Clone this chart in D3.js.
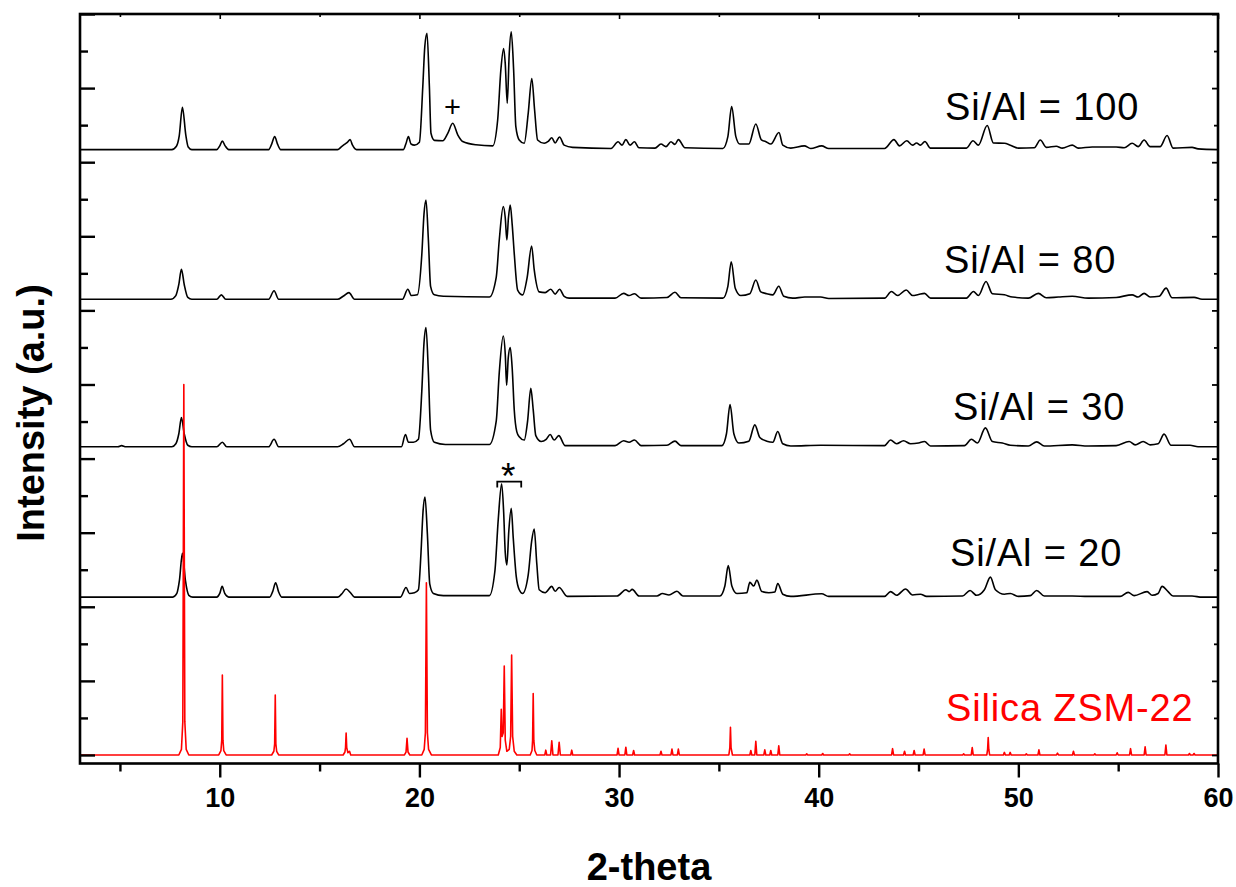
<!DOCTYPE html>
<html>
<head>
<meta charset="utf-8">
<script src="https://cdn.jsdelivr.net/npm/d3@7"></script>
<style>
  html, body { margin: 0; padding: 0; background: #fff; }
  svg { display: block; }
  text { font-family: "Liberation Sans", Arial, Helvetica, sans-serif; }
</style>
</head>
<body>
<svg id="chart" width="1236" height="887"></svg>
<script>
// ---------------- DATA (2-theta, intensity above each pattern's own baseline) ----------------
const seriesNames = ["Si/Al = 100", "Si/Al = 80", "Si/Al = 30", "Si/Al = 20", "Silica ZSM-22"];
const seriesOffsets = [16.34, 12.30, 8.32, 4.26, 0];

const siAl100 = [[3,0],[7.6,0],[7.83,0.09],[7.97,0.37],[8.13,1.14],[8.3,0.39],[8.42,0.07],[8.6,0],
[9.85,0],[10.0,0.1],[10.13,0.23],[10.27,0.1],[10.45,0],
[12.45,0],[12.6,0.15],[12.75,0.35],[12.9,0.14],[13.05,0],
[15.9,0],[16.1,0.08],[16.25,0.14],[16.4,0.2],[16.53,0.27],[16.65,0.12],[16.85,0],
[19.2,0],[19.32,0.15],[19.45,0.35],[19.58,0.15],[19.75,0.12],[20.0,0.2],[20.17,1.7],[20.27,2.78],[20.38,3.14],[20.5,1.7],[20.58,0.44],[20.75,0.25],[21.17,0.24],[21.42,0.44],[21.67,0.71],[21.92,0.4],[22.17,0.22],[22.83,0.13],[23.67,0.1],[23.92,0.8],[24.08,2.15],[24.22,2.73],[24.3,2.32],[24.4,1.25],[24.5,2.6],[24.6,3.18],[24.72,2.15],[24.83,0.62],[25.0,0.26],[25.25,0.17],[25.45,0.98],[25.63,1.92],[25.77,1.07],[25.92,0.26],[26.25,0.17],[26.45,0.22],[26.63,0.32],[26.8,0.18],[27.02,0.34],[27.25,0.12],[27.67,0.06],
[29.6,0.03],[29.95,0.21],[30.15,0.12],[30.34,0.27],[30.55,0.12],[30.77,0.21],[31.0,0.05],[31.8,0.04],[32.1,0.15],[32.35,0.08],[32.6,0.21],[32.8,0.14],[32.97,0.27],[33.3,0.05],[35.2,0.03],[35.45,0.35],[35.64,1.16],[35.85,0.35],[36.05,0.15],[36.5,0.15],[36.85,0.69],[37.13,0.26],[37.34,0.22],[37.6,0.15],[38.01,0.46],[38.2,0.12],[38.6,0.04],[39.28,0.1],[39.6,0.03],[40.15,0.1],[40.5,0.03],[43.3,0.03],[43.77,0.27],[44.05,0.1],[44.41,0.24],[44.7,0.12],[44.9,0.18],[45.1,0.12],[45.32,0.22],[45.6,0.04],[47.4,0.04],[47.73,0.24],[48.0,0.12],[48.44,0.65],[48.75,0.18],[49.3,0.17],[49.6,0.12],[50.0,0.04],[50.8,0.05],[51.1,0.26],[51.4,0.06],[51.9,0.09],[52.2,0.04],[52.7,0.12],[53.0,0.04],[53.7,0.07],[54.9,0.07],[55.3,0.05],[55.7,0.17],[56.0,0.08],[56.3,0.26],[56.6,0.08],[57.1,0.08],[57.45,0.38],[57.75,0.04],[58.7,0.06],[59.0,0.02],[60,0]];

const siAl80 = [[3,0],[7.55,0],[7.8,0.1],[7.95,0.4],[8.08,0.81],[8.22,0.4],[8.4,0.05],[8.6,0],
[9.85,0],[10.08,0.12],[10.3,0],
[12.45,0],[12.72,0.23],[12.95,0],
[15.9,0],[16.2,0.09],[16.47,0.18],[16.75,0],
[19.15,0],[19.42,0.27],[19.6,0.1],[19.9,0.12],[20.12,1.2],[20.23,2.3],[20.33,2.68],[20.45,1.6],[20.56,0.35],[20.75,0.12],[21.2,0.08],[23.5,0.06],[23.85,0.6],[24.0,1.6],[24.2,2.5],[24.3,2.2],[24.38,1.6],[24.46,2.2],[24.55,2.54],[24.65,2.0],[24.75,1.24],[24.92,0.25],[25.17,0.12],[25.4,0.6],[25.62,1.44],[25.75,0.8],[26.0,0.2],[26.3,0.18],[26.58,0.27],[26.8,0.14],[27.02,0.27],[27.25,0.08],[27.5,0.03],
[29.8,0.03],[30.23,0.16],[30.5,0.1],[30.77,0.15],[31.1,0.03],[32.4,0.05],[32.8,0.19],[33.1,0.04],[35.2,0.03],[35.45,0.35],[35.62,1.01],[35.82,0.3],[36.1,0.1],[36.55,0.15],[36.85,0.52],[37.1,0.2],[37.4,0.15],[37.7,0.12],[38.0,0.35],[38.25,0.08],[38.7,0.03],[39.3,0.06],[40.1,0.06],[40.5,0.02],[43.3,0.03],[43.64,0.21],[43.95,0.1],[44.38,0.25],[44.7,0.1],[45.0,0.13],[45.3,0.16],[45.6,0.03],[47.4,0.03],[47.75,0.21],[48.0,0.1],[48.38,0.48],[48.7,0.15],[49.3,0.12],[49.7,0.06],[50.5,0.03],[51.0,0.16],[51.4,0.04],[52.0,0.06],[52.7,0.08],[53.5,0.03],[54.9,0.05],[55.7,0.12],[56.0,0.06],[56.3,0.16],[56.6,0.06],[57.05,0.08],[57.4,0.3],[57.7,0.04],[58.8,0.05],[59.2,0],[60,0]];

const siAl30 = [[3,0],[4.9,0],[5.08,0.03],[5.3,0],[7.6,0],[7.8,0.08],[7.95,0.35],[8.08,0.79],[8.22,0.35],[8.4,0.04],[8.6,0],
[9.85,0],[10.13,0.12],[10.35,0],
[12.45,0],[12.72,0.2],[12.95,0],
[15.9,0],[16.2,0.08],[16.5,0.2],[16.75,0],
[19.1,0],[19.3,0.33],[19.45,0.12],[19.7,0.12],[19.95,0.2],[20.12,1.5],[20.23,2.8],[20.33,3.22],[20.45,2.0],[20.56,0.45],[20.75,0.12],[21.3,0.06],[23.5,0.06],[23.85,0.7],[24.0,2.0],[24.2,2.99],[24.3,2.5],[24.37,1.66],[24.45,2.4],[24.55,2.68],[24.65,2.1],[24.75,1.0],[24.88,0.4],[25.0,0.27],[25.25,0.18],[25.42,0.7],[25.58,1.58],[25.7,1.0],[25.83,0.3],[26.1,0.14],[26.35,0.2],[26.55,0.33],[26.75,0.18],[26.98,0.3],[27.3,0.03],
[29.8,0.03],[30.23,0.16],[30.5,0.12],[30.77,0.18],[31.1,0.03],[32.4,0.04],[32.8,0.15],[33.1,0.03],[35.15,0.03],[35.38,0.35],[35.56,1.14],[35.75,0.35],[36.0,0.1],[36.5,0.15],[36.8,0.59],[37.05,0.25],[37.4,0.15],[37.7,0.12],[37.95,0.41],[38.2,0.08],[38.6,0.02],[40.1,0.04],[43.3,0.03],[43.6,0.18],[43.9,0.08],[44.25,0.16],[44.6,0.08],[45.0,0.1],[45.3,0.14],[45.6,0.02],[47.3,0.03],[47.65,0.2],[47.95,0.1],[48.35,0.51],[48.7,0.14],[49.2,0.1],[49.6,0.04],[50.5,0.02],[50.92,0.13],[51.3,0.02],[52.7,0.05],[53.5,0.02],[54.9,0.03],[55.55,0.14],[55.85,0.05],[56.25,0.14],[56.6,0.05],[57.0,0.08],[57.3,0.34],[57.65,0.04],[58.6,0.04],[59.0,0],[60,0]];

const siAl20 = [[3,0],[7.65,0],[7.85,0.1],[7.98,0.45],[8.13,1.19],[8.28,0.45],[8.45,0.05],[8.65,0],
[9.85,0],[10.0,0.1],[10.12,0.29],[10.25,0.1],[10.45,0],
[12.5,0],[12.65,0.15],[12.8,0.39],[12.95,0.14],[13.1,0],
[15.9,0],[16.1,0.08],[16.33,0.22],[16.55,0.12],[16.75,0],
[19.05,0],[19.33,0.26],[19.5,0.1],[19.75,0.12],[19.95,0.2],[20.08,1.2],[20.18,2.3],[20.28,2.7],[20.4,1.7],[20.52,0.35],[20.7,0.1],[21.2,0.04],[23.5,0.04],[23.78,0.7],[23.95,2.1],[24.12,3.06],[24.22,2.3],[24.3,1.2],[24.38,0.87],[24.48,1.8],[24.6,2.4],[24.7,1.6],[24.85,0.56],[25.0,0.2],[25.17,0.1],[25.45,0.6],[25.62,1.5],[25.75,1.84],[25.88,0.9],[26.0,0.2],[26.3,0.12],[26.63,0.29],[26.8,0.16],[27.0,0.26],[27.4,0.02],
[29.9,0.03],[30.34,0.2],[30.5,0.15],[30.66,0.21],[31.0,0.03],[31.9,0.03],[32.17,0.1],[32.5,0.06],[32.9,0.16],[33.2,0.03],[35.05,0.03],[35.3,0.3],[35.47,0.85],[35.65,0.3],[35.9,0.1],[36.4,0.12],[36.55,0.4],[36.75,0.3],[36.9,0.46],[37.15,0.15],[37.5,0.12],[37.8,0.14],[37.95,0.37],[38.2,0.08],[38.6,0.02],[40.15,0.09],[40.5,0.02],[43.3,0.02],[43.6,0.15],[43.9,0.05],[44.35,0.22],[44.7,0.06],[45.1,0.08],[45.4,0.02],[47.2,0.03],[47.58,0.18],[47.9,0.05],[48.3,0.2],[48.6,0.54],[48.85,0.2],[49.3,0.08],[49.6,0.1],[50.0,0.02],[50.6,0.04],[50.92,0.18],[51.3,0.03],[52.7,0.03],[53.5,0.02],[55.1,0.02],[55.5,0.13],[55.8,0.04],[56.45,0.15],[56.7,0.05],[57.0,0.1],[57.2,0.29],[57.5,0.15],[57.75,0.03],[58.7,0.03],[59.2,0],[60,0]];

const silicaZSM22 = [[3,0],
[7.95,0],[8.08,0.15],[8.15,0.9],[8.2,10.0],[8.25,0.9],[8.32,0.15],[8.45,0],
[9.95,0],[10.06,0.12],[10.1,0.4],[10.13,2.16],[10.16,0.4],[10.2,0.12],[10.32,0],
[12.6,0],[12.71,0.1],[12.75,0.3],[12.78,1.62],[12.81,0.3],[12.85,0.1],[12.95,0],
[16.18,0],[16.27,0.08],[16.3,0.2],[16.33,0.59],[16.36,0.2],[16.42,0.06],[16.5,0.1],[16.56,0],
[19.25,0],[19.33,0.08],[19.38,0.45],[19.43,0.08],[19.52,0],
[20.12,0],[20.24,0.15],[20.3,0.6],[20.35,4.65],[20.4,0.6],[20.46,0.15],[20.6,0],
[23.95,0],[24.05,0.2],[24.1,1.23],[24.14,0.5],[24.2,0.6],[24.25,2.4],[24.3,0.4],[24.38,0.1],[24.5,0.15],[24.57,0.5],[24.62,2.7],[24.67,0.5],[24.75,0.1],[24.88,0],
[25.55,0],[25.64,0.12],[25.67,0.4],[25.7,1.66],[25.73,0.4],[25.78,0.12],[25.88,0],
[26.28,0],[26.33,0.13],[26.38,0],[26.57,0],[26.63,0.38],[26.69,0],[26.94,0],[27.0,0.34],[27.06,0],[27.58,0],[27.63,0.13],[27.68,0],
[29.9,0],[29.95,0.18],[30.0,0],[30.29,0],[30.34,0.21],[30.39,0],[30.68,0],[30.73,0.12],[30.78,0],
[32.05,0],[32.1,0.1],[32.15,0],[32.6,0],[32.65,0.16],[32.7,0],[32.92,0],[32.97,0.16],[33.02,0],
[35.5,0],[35.55,0.2],[35.58,0.75],[35.61,0.2],[35.68,0],
[36.55,0],[36.6,0.12],[36.65,0],[36.8,0],[36.85,0.37],[36.9,0],[37.25,0],[37.3,0.14],[37.35,0],[37.55,0],[37.6,0.12],[37.65,0],[37.95,0],[38.0,0.25],[38.05,0],
[39.35,0],[39.4,0.03],[39.45,0],[40.15,0],[40.2,0.04],[40.25,0],[41.5,0],[41.55,0.03],[41.6,0],
[43.65,0],[43.7,0.17],[43.75,0],[44.25,0],[44.3,0.1],[44.35,0],[44.73,0],[44.78,0.12],[44.83,0],[45.23,0],[45.28,0.16],[45.33,0],
[47.21,0],[47.26,0.03],[47.31,0],[47.64,0],[47.69,0.2],[47.74,0],[48.42,0],[48.46,0.15],[48.49,0.47],[48.52,0.15],[48.56,0],
[49.25,0],[49.3,0.07],[49.35,0],[49.54,0],[49.59,0.07],[49.64,0],[50.35,0],[50.4,0.03],[50.45,0],[50.98,0],[51.03,0.14],[51.08,0],[51.91,0],[51.96,0.05],[52.01,0],[52.71,0],[52.76,0.1],[52.81,0],[53.78,0],[53.83,0.03],[53.88,0],[54.9,0],[54.95,0.06],[55.0,0],[55.57,0],[55.62,0.17],[55.67,0],[56.3,0],[56.35,0.22],[56.4,0],[57.34,0],[57.39,0.27],[57.44,0],[58.52,0],[58.57,0.04],[58.62,0],[58.75,0],[58.8,0.04],[58.85,0],[60,0]];

const seriesData = [siAl100, siAl80, siAl30, siAl20, silicaZSM22];
const seriesColors = ["#000000", "#000000", "#000000", "#000000", "#ff0000"];

const xMajorTicks = [10, 20, 30, 40, 50, 60];
const xMinorTicks = [5, 15, 25, 35, 45, 55];
const yMajorTicks = [0, 2, 4, 6, 8, 10, 12, 14, 16, 18, 20];
const yMinorTicks = [1, 3, 5, 7, 9, 11, 13, 15, 17, 19];
const xTitle = "2-theta";
const yTitle = "Intensity (a.u.)";
// annotation marks: [2-theta, intensity level]
const plusMark = [21.65, 17.49];
const starMark = [24.45, 7.75];
const bracketSpan = [23.9, 25.1, 7.38, 7.22];

// ---------------- LAYOUT ----------------
const box = { left: 80, right: 1218, top: 14, bottom: 763.5 };
const svg = d3.select("#chart");

const x = d3.scaleLinear().domain([3, 60]).range([box.left, box.right]);
const y = d3.scaleLinear().domain([-0.23, 20]).range([box.bottom, box.top]);

svg.append("defs").append("clipPath").attr("id", "plotclip")
  .append("rect").attr("x", box.left).attr("y", box.top)
  .attr("width", box.right - box.left).attr("height", box.bottom - box.top);

// curves
const plot = svg.append("g").attr("clip-path", "url(#plotclip)");
seriesData.forEach((data, i) => {
  const off = seriesOffsets[i];
  const line = d3.line()
    .x(d => x(d[0]))
    .y(d => y(d[1] + off))
    .curve(i === 4 ? d3.curveLinear : d3.curveMonotoneX);
  plot.append("path")
    .datum(data)
    .attr("d", line)
    .attr("fill", "none")
    .attr("stroke", seriesColors[i])
    .attr("stroke-width", i === 4 ? 1.6 : 1.6)
    .attr("stroke-linejoin", "round");
});

// axes
function styleAxis(g, w) {
  g.select(".domain").remove();
  g.selectAll(".tick line").attr("stroke", "#000").attr("stroke-width", w);
}
// bottom
const gxMaj = svg.append("g").attr("transform", `translate(0,${box.bottom})`)
  .call(d3.axisBottom(x).tickValues(xMajorTicks).tickSize(14).tickPadding(10).tickFormat(d3.format("d")));
styleAxis(gxMaj, 2.4);
gxMaj.selectAll(".tick text").attr("font-size", 27).attr("font-weight", "bold").attr("fill", "#000")
  .attr("font-family", "'Liberation Sans', Arial, sans-serif");
const gxMin = svg.append("g").attr("transform", `translate(0,${box.bottom})`)
  .call(d3.axisBottom(x).tickValues(xMinorTicks).tickSize(8).tickFormat(""));
styleAxis(gxMin, 2.4);
// top (inward)
const gtMaj = svg.append("g").attr("transform", `translate(0,${box.top})`)
  .call(d3.axisTop(x).tickValues(xMajorTicks).tickSize(-5).tickFormat(""));
styleAxis(gtMaj, 1.6);
const gtMin = svg.append("g").attr("transform", `translate(0,${box.top})`)
  .call(d3.axisTop(x).tickValues(xMinorTicks).tickSize(-3).tickFormat(""));
styleAxis(gtMin, 1.6);
// left (inward)
const gyMaj = svg.append("g").attr("transform", `translate(${box.left},0)`)
  .call(d3.axisRight(y).tickValues(yMajorTicks).tickSize(15).tickFormat(""));
styleAxis(gyMaj, 2.4);
const gyMin = svg.append("g").attr("transform", `translate(${box.left},0)`)
  .call(d3.axisRight(y).tickValues(yMinorTicks).tickSize(8).tickFormat(""));
styleAxis(gyMin, 2.4);
// right (inward)
const grMaj = svg.append("g").attr("transform", `translate(${box.right},0)`)
  .call(d3.axisLeft(y).tickValues(yMajorTicks).tickSize(6).tickFormat(""));
styleAxis(grMaj, 1.8);
const grMin = svg.append("g").attr("transform", `translate(${box.right},0)`)
  .call(d3.axisLeft(y).tickValues(yMinorTicks).tickSize(4).tickFormat(""));
styleAxis(grMin, 1.8);

// frame
svg.append("rect")
  .attr("x", box.left).attr("y", box.top)
  .attr("width", box.right - box.left).attr("height", box.bottom - box.top)
  .attr("fill", "none").attr("stroke", "#000").attr("stroke-width", 2.6);

// axis titles
svg.append("text")
  .attr("x", (box.left + box.right) / 2).attr("y", 880)
  .attr("text-anchor", "middle")
  .attr("font-size", 38).attr("font-weight", "bold")
  .text(xTitle);
svg.append("text")
  .attr("transform", "translate(44,413) rotate(-90)")
  .attr("text-anchor", "middle")
  .attr("font-size", 38).attr("font-weight", "bold")
  .text(yTitle);

// series labels
const labelPos = [[945, 120], [944, 273], [953, 420], [950, 566], [946, 721]];
seriesNames.forEach((name, i) => {
  svg.append("text")
    .attr("x", labelPos[i][0]).attr("y", labelPos[i][1])
    .attr("font-size", 38)
    .attr("letter-spacing", 0.85)
    .attr("fill", seriesColors[i])
    .text(name);
});

// annotations
svg.append("text")
  .attr("x", x(plusMark[0])).attr("y", y(plusMark[1]) + 10)
  .attr("text-anchor", "middle").attr("font-size", 29)
  .text("+");
svg.append("text")
  .attr("x", x(starMark[0])).attr("y", y(starMark[1]) + 21)
  .attr("text-anchor", "middle").attr("font-size", 37)
  .text("*");
svg.append("path")
  .attr("d", `M${x(bracketSpan[0])},${y(bracketSpan[3])}V${y(bracketSpan[2])}H${x(bracketSpan[1])}V${y(bracketSpan[3])}`)
  .attr("fill", "none").attr("stroke", "#000").attr("stroke-width", 1.8);
</script>
</body>
</html>
